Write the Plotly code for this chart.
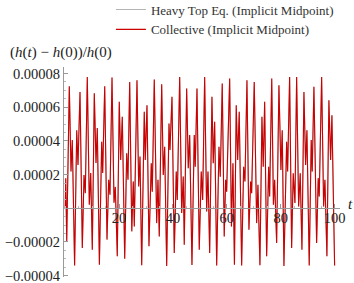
import plotly.graph_objects as go

# time samples (extrema) and relative energy error (x 1e-5)
t_vals = [0, 0.2, 0.56, 1.52, 2.15, 2.63, 3.49, 4.27, 4.75, 5.49, 6.35, 6.98, 7.46, 8.20, 8.94, 9.46,
          10.06, 10.80, 11.43, 11.91, 12.69, 13.54, 13.91, 14.66, 15.51, 16.14, 16.62, 17.37, 18.11,
          18.59, 19.33, 20.07, 20.59, 21.19, 22.08, 22.82, 23.30, 23.93, 24.71, 25.27, 25.64, 26.64,
          27.27, 27.76, 28.39, 29.35, 29.72, 30.35, 31.09, 31.95, 32.32, 33.06, 33.95, 34.43, 34.92,
          35.81, 36.40, 36.92, 37.66, 38.52, 38.89, 39.63, 40.48, 41.22, 41.60, 42.49, 43.23, 43.82,
          44.19, 45.08, 45.68, 46.20, 47.05, 47.90, 48.27, 48.91, 49.76, 50.50, 51.02, 51.76, 52.50,
          52.99, 53.62, 54.47, 54.95, 55.47, 56.22, 57.07, 57.55, 58.29, 59.03, 59.55, 59.93, 61.04,
          61.71, 62.26, 62.82, 63.49, 64.01, 64.60, 65.49, 66.23, 66.72, 67.46, 68.20, 68.83, 69.20,
          70.17, 71.06, 71.54, 72.28, 73.02, 73.51, 74.03, 74.77, 75.51, 75.88, 76.66, 77.29, 77.74,
          78.48, 79.33, 80.07, 80.56, 81.19, 82.19, 82.56, 83.30, 84.04, 84.64, 85.27, 85.90, 86.64,
          87.24, 87.87, 88.61, 89.24, 89.72, 90.58, 91.32, 91.69, 92.32, 93.32, 93.91, 94.29, 95.18,
          95.92, 96.40, 97.14, 97.88, 98.52, 99.00, 100.0]
err_e5 = [0, 1.79, -1.96, 7.25, 2.18, 4.05, -3.40, 4.64, 2.57, 6.91, -2.36, 1.98, 0.90, 7.80, 0.21, 2.10,
          -2.46, 6.83, 2.69, 4.76, -3.35, 3.95, 2.10, 7.25, -1.86, 1.69, 0.80, 7.76, 0.33,
          1.27, -2.85, 6.32, 2.87, 5.43, -3.00, 3.27, 1.69, 7.50, -1.37, 1.59, -1.08, 7.60,
          1.29, 3.07, -3.38, 5.73, 2.87, 6.12, -2.26, 2.67, 0.99, 7.64, -0.88, 1.69, -1.67,
          7.37, 1.98, 3.66, -3.42, 5.04, 3.46, 6.62, -2.65, 2.18, 0.50, 7.80, -0.28, 1.88,
          -2.16, 7.11, 2.38, 4.35, -3.36, 4.35, 2.47, 7.11, -2.46, 2.18, 0.50, 7.80, -0.19,
          2.18, -2.65, 6.62, 2.67, 5.14, -3.40, 3.66, 1.88, 7.41, -1.67, 1.69, 0.99, 7.70,
          -1.08, 2.67, -3.35, 6.12, 2.87, 5.73, -3.40, 2.47, 1.59, 7.60, -1.27, 1.59, 0.90,
          7.50, -0.88, 1.39, -3.38, 5.43, 2.47, 6.32, -2.85, 2.47, 0.70, 7.70, 0.21, 1.69,
          -2.06, 7.31, 2.28, 4.64, -3.42, 3.95, 2.18, 7.80, -2.36, 2.08, 0.31, 7.80, 0.11,
          2.08, -2.46, 6.91, 2.57, 4.64, -3.40, 4.05, 2.18, 7.21, -2.06, 1.79, 0.70, 7.80,
          0.11, 1.69, -2.85, 6.42, 2.87, 5.53, -3.40]
err_vals = [v * 1e-5 for v in err_e5]

x_tick_vals = [20, 40, 60, 80, 100]
x_tick_text = ["20", "40", "60", "80", "100"]
y_tick_vals = [-4e-5, -2e-5, 2e-5, 4e-5, 6e-5, 8e-5]
y_tick_text = ["\u22120.00004", "\u22120.00002", "0.00002", "0.00004", "0.00006", "0.00008"]

series_names = ["Heavy Top Eq. (Implicit Midpoint)", "Collective (Implicit Midpoint)"]
series_colors = ["#b4b4b4", "#cc0000"]

SERIF = "Liberation Serif"
y_min, y_max = -4.08e-5, 8.39e-5
x_min, x_max = -0.45, 102.0
x_axis_pos = (0 - y_min) / (y_max - y_min)

fig = go.Figure()
for name, col in zip(series_names, series_colors):
    fig.add_trace(go.Scatter(x=t_vals, y=err_vals, mode="lines", name=name,
                             line=dict(color=col, width=1.1)))

fig.update_layout(
    width=354, height=283,
    margin=dict(l=64, r=14, t=67, b=6, autoexpand=False),
    paper_bgcolor="white", plot_bgcolor="white",
    font=dict(family=SERIF, size=14, color="#222"),
    showlegend=True,
    legend=dict(x=0.17, y=1.345, xanchor="left", yanchor="top",
                font=dict(family=SERIF, size=13, color="#333"),
                bgcolor="rgba(0,0,0,0)", tracegroupgap=0),
    xaxis=dict(range=[x_min, x_max], anchor="free", position=x_axis_pos, automargin=False,
               showline=True, linecolor="#999", linewidth=1,
               ticks="inside", ticklen=4, tickcolor="#999", tickwidth=1,
               tickmode="array", tickvals=x_tick_vals, ticktext=x_tick_text,
               ticklabeloverflow="allow", ticklabelstandoff=-4,
               minor=dict(dtick=5, tick0=0, ticklen=2, tickcolor="#bbb", ticks="inside"),
               showgrid=False, zeroline=False,
               tickfont=dict(family=SERIF, size=14.5, color="#222")),
    yaxis=dict(range=[y_min, y_max], automargin=False,
               showline=True, linecolor="#999", linewidth=1,
               ticks="inside", ticklen=4, tickcolor="#999", tickwidth=1,
               tickmode="array", tickvals=y_tick_vals, ticktext=y_tick_text,
               ticklabeloverflow="allow",
               minor=dict(dtick=5e-6, tick0=0, ticklen=2, tickcolor="#bbb", ticks="inside"),
               showgrid=False, zeroline=False,
               tickfont=dict(family=SERIF, size=14.5, color="#222")),
    annotations=[
        dict(text="(<i>h</i>(<i>t</i>) \u2212 <i>h</i>(0))/<i>h</i>(0)", xref="paper", yref="paper",
             x=(8 - 64) / 276, y=(277 - 52) / 210, xanchor="left", yanchor="middle",
             showarrow=False, font=dict(family=SERIF, size=15, color="#222")),
        dict(text="<i>t</i>", xref="paper", yref="paper",
             x=(350 - 64) / 276, y=(277 - 204) / 210, xanchor="center", yanchor="middle",
             showarrow=False, font=dict(family=SERIF, size=15, color="#222")),
    ],
)

fig.write_html("out.html", config={"displayModeBar": False},
               post_script="document.body.style.margin='0px';document.body.style.overflow='hidden';")
